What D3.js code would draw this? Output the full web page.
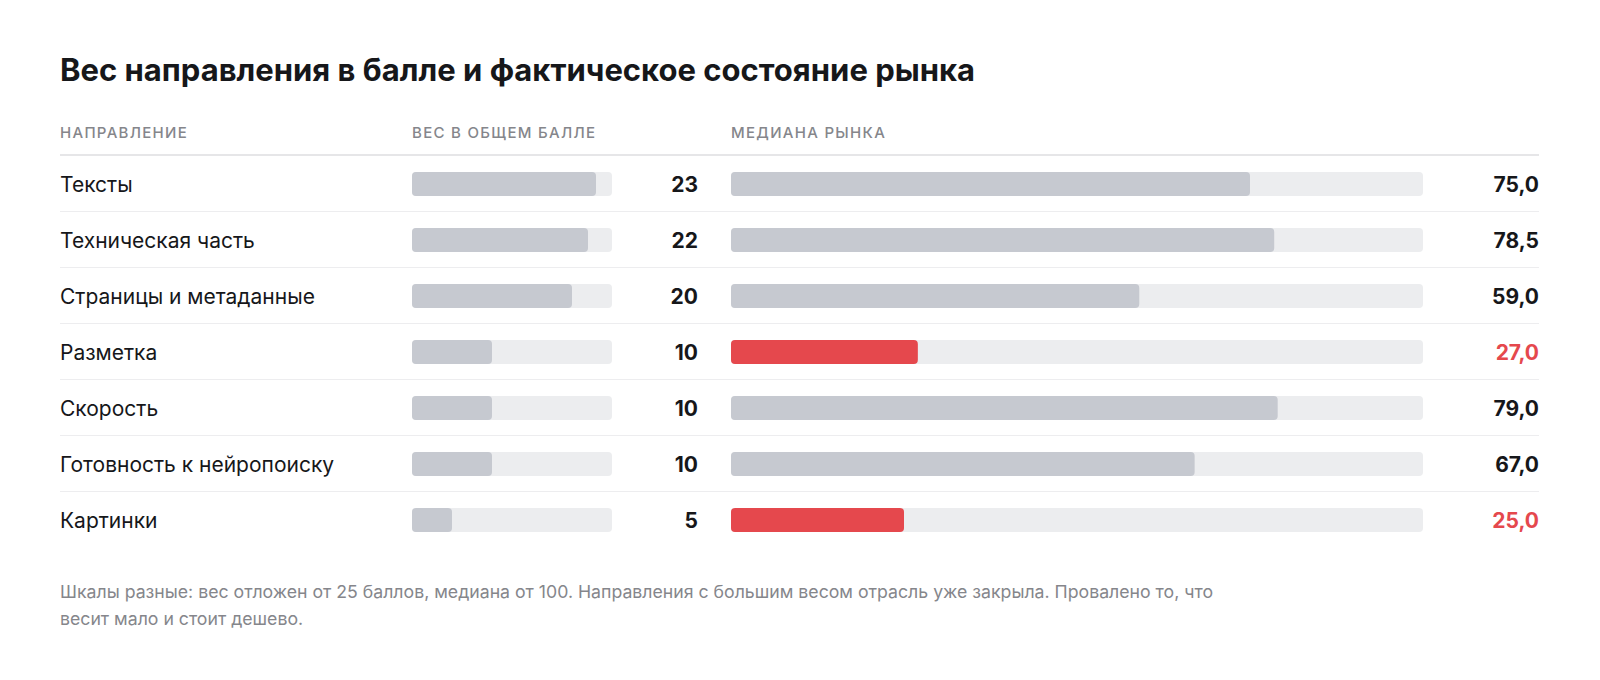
<!DOCTYPE html>
<html>
<head>
<meta charset="utf-8">
<script src="https://cdn.jsdelivr.net/npm/d3@7"></script>
<style>
  html, body { margin: 0; padding: 0; background: #fff; overflow: hidden; }
  svg { display: block; font-family: Inter, "Noto Sans", sans-serif; }
  .title { font-size: 31px; font-weight: 700; fill: #16171a; }
  .head { font-size: 15px; font-weight: 500; fill: #85868b; letter-spacing: 1.3px; }
  .label { font-size: 21px; fill: #16171a; }
  .value { font-size: 21px; font-weight: 700; fill: #16171a; }
  .value.bad { fill: #e5484d; }
  .note { font-size: 17.7px; fill: #85868b; }
</style>
</head>
<body>
<div id="chart"></div>
<script>
const categories = ['Тексты', 'Техническая часть', 'Страницы и метаданные', 'Разметка', 'Скорость', 'Готовность к нейропоиску', 'Картинки'];
const weights = [23, 22, 20, 10, 10, 10, 5];
const medians = [75.0, 78.5, 59.0, 27.0, 79.0, 67.0, 25.0];
const failed = [false, false, false, true, false, false, true];
const headers = ['НАПРАВЛЕНИЕ', 'ВЕС В ОБЩЕМ БАЛЛЕ', 'МЕДИАНА РЫНКА'];
const noteLines = [
  'Шкалы разные: вес отложен от 25 баллов, медиана от 100. Направления с большим весом отрасль уже закрыла. Провалено то, что',
  'весит мало и стоит дешево.'
];

const W = 1600, H = 680;
const left = 60, right = 1539;
const fmt = (v) => v.toFixed(1).replace('.', ',');

const svg = d3.select('#chart').append('svg').attr('width', W).attr('height', H);

svg.append('text').attr('class', 'title').attr('x', left).attr('y', 81)
  .text('Вес направления в балле и фактическое состояние рынка');

const xW = d3.scaleLinear().domain([0, 25]).range([412, 612]);
const xM = d3.scaleLinear().domain([0, 100]).range([731, 1423]);

const headX = [left, xW(0), xM(0)];
svg.selectAll('text.head').data(headers).join('text')
  .attr('class', 'head').attr('x', (d, i) => headX[i]).attr('y', 138).text((d) => d);

svg.append('line').attr('x1', left).attr('x2', right).attr('y1', 155).attr('y2', 155)
  .attr('stroke', '#e6e6e8').attr('stroke-width', 2);

const rowH = 56;
const y = d3.scaleBand().domain(categories).range([156, 156 + rowH * categories.length]);
const barH = 24;

const rows = categories.map((c, i) => ({ c, w: weights[i], m: medians[i], bad: failed[i] }));
const g = svg.selectAll('g.row').data(rows).join('g')
  .attr('class', 'row').attr('transform', (d) => `translate(0,${y(d.c)})`);

const mid = y.bandwidth() / 2;

g.filter((d, i) => i < rows.length - 1).append('line')
  .attr('x1', left).attr('x2', right).attr('y1', y.bandwidth() - 0.5).attr('y2', y.bandwidth() - 0.5)
  .attr('stroke', '#ededef').attr('stroke-width', 1);

g.append('text').attr('class', 'label').attr('x', left).attr('y', mid).attr('dy', '0.36em')
  .text((d) => d.c);

// weight: track + bar
g.append('rect').attr('x', xW(0)).attr('y', mid - barH / 2)
  .attr('width', xW(25) - xW(0)).attr('height', barH).attr('rx', 4).attr('fill', '#ecedef');
g.append('rect').attr('x', xW(0)).attr('y', mid - barH / 2)
  .attr('width', (d) => xW(d.w) - xW(0)).attr('height', barH).attr('rx', 4).attr('fill', '#c6c9d0');
g.append('text').attr('class', 'value').attr('x', 698).attr('y', mid).attr('dy', '0.36em')
  .attr('text-anchor', 'end').text((d) => d.w);

// market median: track + bar
g.append('rect').attr('x', xM(0)).attr('y', mid - barH / 2)
  .attr('width', xM(100) - xM(0)).attr('height', barH).attr('rx', 4).attr('fill', '#ecedef');
g.append('rect').attr('x', xM(0)).attr('y', mid - barH / 2)
  .attr('width', (d) => xM(d.m) - xM(0)).attr('height', barH).attr('rx', 4)
  .attr('fill', (d) => d.bad ? '#e5484d' : '#c6c9d0');
g.append('text').attr('class', (d) => d.bad ? 'value bad' : 'value')
  .attr('x', right).attr('y', mid).attr('dy', '0.36em')
  .attr('text-anchor', 'end').text((d) => fmt(d.m));

svg.append('text').attr('class', 'note').attr('x', left).attr('y', 598)
  .selectAll('tspan').data(noteLines).join('tspan')
  .attr('x', left).attr('dy', (d, i) => i ? 27 : 0).text((d) => d);
</script>
</body>
</html>
